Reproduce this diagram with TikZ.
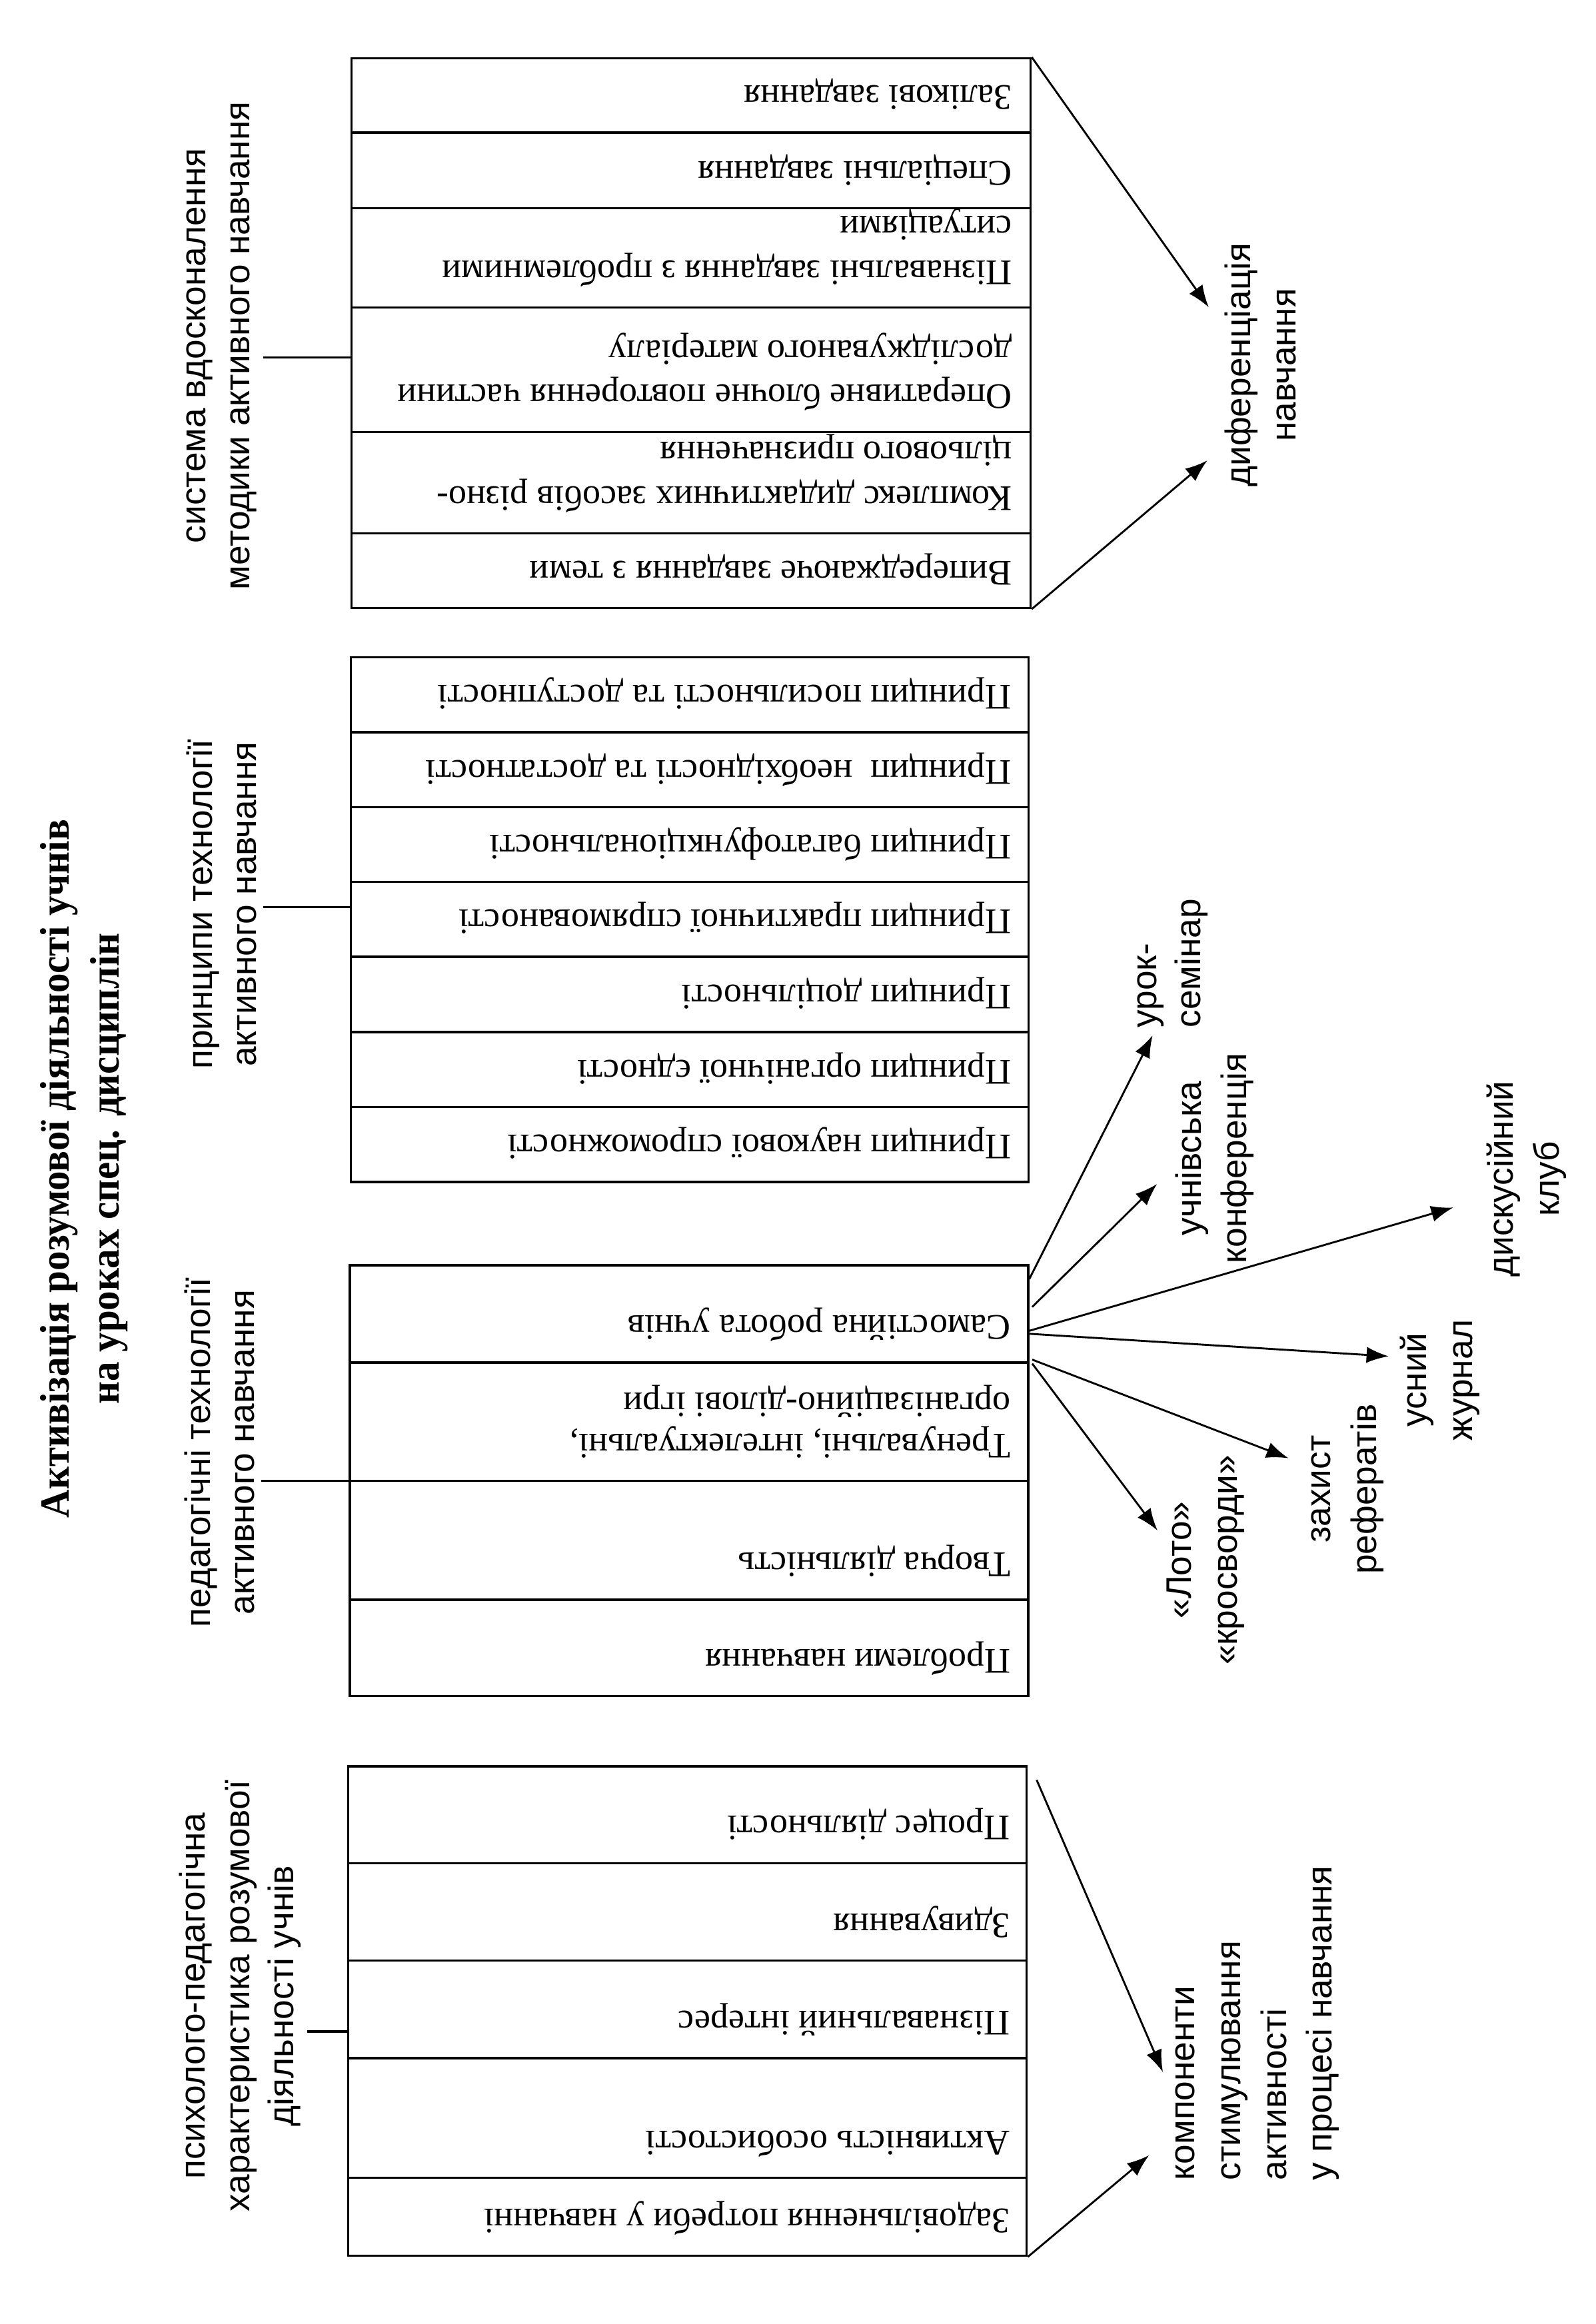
\documentclass[tikz,border=0pt]{standalone}
\usepackage{fontspec}
\setmainfont{Liberation Serif}
\newfontfamily\lsans{Liberation Sans}
\newfontfamily\ttitle[FakeStretch=0.95]{Liberation Serif}
\usetikzlibrary{arrows.meta,fit,calc}
\begin{document}
\begin{tikzpicture}[x=0.5pt,y=-0.5pt,
  cell/.style={draw,line width=0.75pt,inner sep=0pt},
  celltext/.style={rotate=180,anchor=base west,inner sep=0pt,align=left,font=\fontsize{12.2}{15}\selectfont},
  grp/.style={rotate=90,inner sep=0pt,align=center,font=\lsans\fontsize{12}{15}\selectfont},
  side/.style={rotate=90,inner sep=0pt,align=center,font=\lsans\fontsize{12}{15.5}\selectfont},
  arr/.style={line width=0.65pt,-{Latex[length=7.5pt,width=5.5pt]}},
  tick/.style={line width=0.75pt}]
\useasboundingbox (0,0) rectangle (1080,1573);

% title
\node[rotate=90,align=center,inner sep=0pt,font=\ttitle\bfseries\fontsize{14}{17}\selectfont] (title) at (57,791)
  {Активізація розумової діяльності учнів\\на уроках спец. дисциплін};

% ---------- group 1
\node[cell,fit={(238,39.5)(697.5,89.8)}] (a1) {};
\node[cell,fit={(238,89.8)(697.5,141)}] (a2) {};
\node[cell,fit={(238,141)(697.5,208.2)}] (a3) {};
\node[cell,fit={(238,208.2)(697.5,292.4)}] (a4) {};
\node[cell,fit={(238,292.4)(697.5,361)}] (a5) {};
\node[cell,fit={(238,361)(697.5,411.5)}] (a6) {};
\node[celltext] (ta1) at ($(a1.south east)+(-13,-32.5)$) {Залікові завдання};
\node[celltext] (ta2) at ($(a2.south east)+(-13,-32.5)$) {Спеціальні завдання};
\node[celltext] (ta3) at ($(a3.south east)+(-13,-62.5)$) {Пізнавальні завдання з проблемними\\ситуаціями};
\node[celltext] (ta4) at ($(a4.south east)+(-13,-62.5)$) {Оперативне блочне повторення частини\\досліджуваного матеріалу};
\node[celltext] (ta5) at ($(a5.south east)+(-13,-62.5)$) {Комплекс дидактичних засобів різно-\\цільового призначення};
\node[celltext] (ta6) at ($(a6.south east)+(-13,-32.5)$) {Випереджаюче завдання з теми};
\node[grp] (g1) at (150,234) {система вдосконалення\\методики активного навчання};
\coordinate (k1s) at (178,242);
\coordinate (k1) at (238,242);
\draw[tick] (k1s) -- (k1);

% ---------- group 2
\node[cell,fit={(237.5,445)(696,495.6)}] (b1) {};
\node[cell,fit={(237.5,495.6)(696,546.5)}] (b2) {};
\node[cell,fit={(237.5,546.5)(696,597)}] (b3) {};
\node[cell,fit={(237.5,597)(696,647.6)}] (b4) {};
\node[cell,fit={(237.5,647.6)(696,698.5)}] (b5) {};
\node[cell,fit={(237.5,698.5)(696,749.3)}] (b6) {};
\node[cell,fit={(237.5,749.3)(696,800)}] (b7) {};
\node[celltext] (tb1) at ($(b1.south east)+(-12,-32.5)$) {Принцип посильності та доступності};
\node[celltext] (tb2) at ($(b2.south east)+(-12,-32.5)$) {Принцип~ необхідності та достатності};
\node[celltext] (tb3) at ($(b3.south east)+(-12,-32.5)$) {Принцип багатофункціональності};
\node[celltext] (tb4) at ($(b4.south east)+(-12,-32.5)$) {Принцип практичної спрямованості};
\node[celltext] (tb5) at ($(b5.south east)+(-12,-32.5)$) {Принцип доцільності};
\node[celltext] (tb6) at ($(b6.south east)+(-12,-32.5)$) {Принцип органічної єдності};
\node[celltext] (tb7) at ($(b7.south east)+(-12,-32.5)$) {Принцип наукової спроможності};
\node[grp] (g2) at (150,612) {принципи технології\\активного навчання};
\coordinate (k2s) at (178,614);
\coordinate (k2) at (237.5,614);
\draw[tick] (k2s) -- (k2);

% ---------- group 3
\node[cell,fit={(236.7,856.4)(695.8,922.2)}] (c1) {};
\node[cell,fit={(236.7,922.2)(695.8,1002.4)}] (c2) {};
\node[cell,fit={(236.7,1002.4)(695.8,1082.8)}] (c3) {};
\node[cell,fit={(236.7,1082.8)(695.8,1148)}] (c4) {};
\node[celltext] (tc1) at ($(c1.south east)+(-12.3,-32.5)$) {Самостійна робота учнів};
\node[celltext,font=\fontsize{12.2}{14}\selectfont] (tc2) at ($(c2.south east)+(-12.3,-60.5)$) {Тренувальні, інтелектуальні,\\організаційно-ділові ігри};
\node[celltext] (tc3) at ($(c3.south east)+(-12.3,-32.5)$) {Творча діяльність};
\node[celltext] (tc4) at ($(c4.south east)+(-12.3,-32.5)$) {Проблеми навчання};
\node[grp] (g3) at (148.5,983) {педагогічні технології\\активного навчання};
\coordinate (k3s) at (177,1002.4);
\coordinate (k3) at (236.7,1002.4);
\draw[tick] (k3s) -- (k3);

% ---------- group 4
\node[cell,fit={(235.6,1195.5)(694.8,1261)}] (d1) {};
\node[cell,fit={(235.6,1261)(694.8,1327)}] (d2) {};
\node[cell,fit={(235.6,1327)(694.8,1393)}] (d3) {};
\node[cell,fit={(235.6,1393)(694.8,1474)}] (d4) {};
\node[cell,fit={(235.6,1474)(694.8,1526.8)}] (d5) {};
\node[celltext] (td1) at ($(d1.south east)+(-11.8,-32.5)$) {Процес діяльності};
\node[celltext] (td2) at ($(d2.south east)+(-11.8,-32.5)$) {Здивування};
\node[celltext] (td3) at ($(d3.south east)+(-11.8,-32.5)$) {Пізнавальний інтерес};
\node[celltext] (td4) at ($(d4.south east)+(-11.8,-32.5)$) {Активність особистості};
\node[celltext] (td5) at ($(d5.south east)+(-11.8,-32.5)$) {Задовільнення потреби у навчанні};
\node[grp] (g4) at (162.5,1351) {психолого-педагогічна\\характеристика розумової\\діяльності учнів};
\coordinate (k4s) at (208,1375);
\coordinate (k4) at (235.6,1375);
\draw[tick] (k4s) -- (k4);

% ---------- side labels
\node[side] (dif) at (853,247) {диференціація\\навчання};
\node[side,align=left,anchor=west,font=\lsans\fontsize{12}{15}\selectfont] (urok) at (793.6,696) {урок-\\семінар};
\node[side] (konf) at (822,784) {учнівська\\конференція};
\node[side] (disk) at (1033,798) {дискусійний\\клуб};
\node[side] (usny) at (974.6,934) {усний\\журнал};
\node[side] (zakh) at (912,1008) {захист\\рефератів};
\node[side] (loto) at (816,1056) {«Лото»\\«кросворди»};
\node[side,align=left,anchor=west] (komp) at (851,1476) {компоненти\\стимулювання\\активності\\у процесі навчання};

% ---------- arrows
\coordinate (tdif1) at (818,208);
\coordinate (tdif2) at (817,311.7);
\draw[arr] (a1.north east) -- (tdif1);
\draw[arr] (a6.south east) -- (tdif2);

\coordinate (turok) at (780,700.8);
\coordinate (tkonf) at (783,801.4);
\coordinate (tdisk) at (983.5,817.3);
\coordinate (tusny) at (939.8,918);
\coordinate (tzakh) at (872,987);
\coordinate (tloto) at (783.3,1035.9);
\draw[arr] ($(c1.north east)!0.15!(c1.south east)$) -- (turok);
\draw[arr] ($(c1.north east)!0.43!(c1.south east)+(2,0)$) -- (tkonf);
\draw[arr] ($(c1.north east)!0.67!(c1.south east)$) -- (tdisk);
\draw[arr] ($(c1.north east)!0.70!(c1.south east)$) -- (tusny);
\draw[arr] ($(c1.north east)!0.96!(c1.south east)+(2,0)$) -- (tzakh);
\draw[arr] ($(c1.south east)+(2,0)$) -- (tloto);

\coordinate (tkomp1) at (787,1402.5);
\coordinate (tkomp2) at (777.6,1458.8);
\draw[arr] ($(d1.north east)+(6,10)$) -- (tkomp1);
\draw[arr] (d5.south east) -- (tkomp2);
\end{tikzpicture}
\end{document}
